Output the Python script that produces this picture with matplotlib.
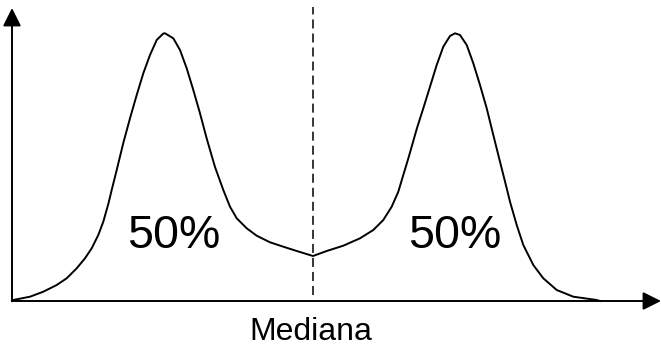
import matplotlib
matplotlib.use("Agg")
import matplotlib.pyplot as plt

plt.rcParams['font.family'] = ['Liberation Sans', 'DejaVu Sans']
plt.rcParams['lines.scale_dashes'] = False

# bimodal curve, points (x right, y up, origin at axes corner)
x_left_rise = [0, 1.3, 18, 31.3, 44.7, 54.7, 64.7, 73, 79.7, 86.3, 91.3, 96.3,
               99.7, 104.7, 111.3, 118, 124.7, 131.3, 138, 144.7, 151.3, 153]
y_left_rise = [0, 1, 4.3, 9.3, 16, 22.7, 32.7, 42.7, 52.7, 66, 79.3, 97,
               111, 131, 158, 182.7, 206, 227.7, 246, 261, 267.5, 267.7]
x_left_fall = [161.3, 168, 174.7, 181.3, 188, 194.7, 203, 211.3, 218, 224.7,
               234.7, 244.7, 258, 271.3, 284.7, 301]
y_left_fall = [262.7, 251, 232.7, 211, 187.7, 162.5, 134, 111, 94.3, 82.7,
               72.7, 65.3, 58.7, 54.3, 50, 45]
x_right_rise = [314.7, 331.3, 348, 361.3, 371.3, 379.7, 386.3, 391.3, 396.3,
                401.3, 404.7, 411.3, 418, 424.7, 431.3, 438, 443]
y_right_rise = [50, 55.3, 62.7, 71, 81, 94.3, 109.3, 126, 142.5,
                160, 172, 192.7, 214.3, 236, 254.3, 265, 267.7]
x_right_fall = [448, 454.7, 461.3, 468, 474.7, 481.3, 488, 494.7, 498, 504.7,
                511.3, 521.3, 531.3, 544.7, 561.3, 584.7, 588]
y_right_fall = [266, 256, 237.7, 216, 192.7, 166, 139.3, 112.7, 99.3, 76,
                56, 36, 22.7, 11, 4.3, 1, 0]

median_x = 301
labels = ['50%', '50%']
label_x = [162, 443]
label_y = 53
xlabel = 'Mediana'

xs = x_left_rise + x_left_fall + x_right_rise + x_right_fall
ys = y_left_rise + y_left_fall + y_right_rise + y_right_fall

fig = plt.figure(figsize=(6.61, 3.47), dpi=100)
ax = fig.add_axes([0, 0, 1, 1])
ax.set_xlim(-12, 649)
ax.set_ylim(-46, 301)
ax.axis('off')

ax.plot(xs, ys, color='black', lw=1.4, solid_joinstyle='round')

# median line
ax.plot([median_x, median_x], [6, 294], color='black', lw=1.1,
        linestyle=(0, (6.5, 3.6)))

# axes with arrows
arrow = dict(arrowstyle='-|>,head_length=1.1,head_width=0.55', color='black',
             lw=1.4, shrinkA=0, shrinkB=0, mutation_scale=10)
ax.annotate('', xy=(649, 0), xytext=(0, 0), arrowprops=arrow)
ax.annotate('', xy=(0, 293), xytext=(0, 0), arrowprops=arrow)

for lx, lab in zip(label_x, labels):
    ax.text(lx, label_y, lab, fontsize=33.5, ha='center', va='baseline')

ax.text(299, -39, xlabel, fontsize=23, ha='center', va='baseline')

fig.savefig('out.png', dpi=100)
